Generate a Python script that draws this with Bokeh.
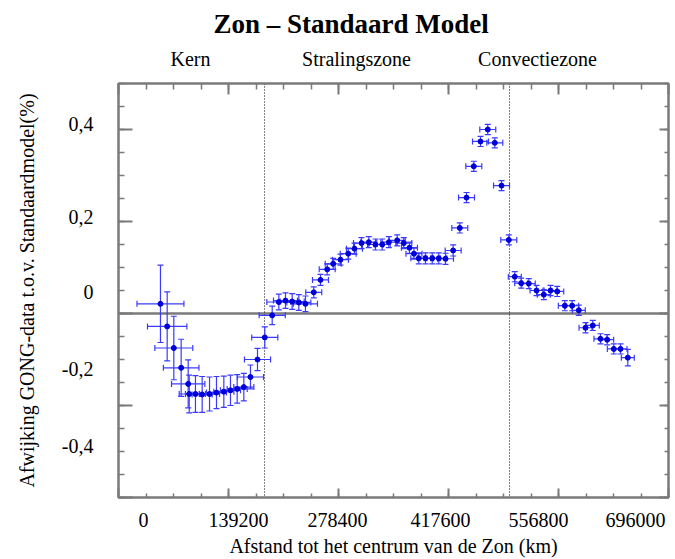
import numpy as np
from bokeh.plotting import figure
from bokeh.models import (ColumnDataSource, Range1d, LinearAxis, FixedTicker,
                          Whisker, TeeHead, Span)
from bokeh.embed import file_html
from bokeh.resources import INLINE

# Afstand tot het centrum van de Zon (km)
afstand_km = [
    53100, 61600, 70000, 79300, 88200, 89500, 97400, 105900, 115200, 124000,
    133300, 141700, 150200, 158600, 167000, 175900, 185100, 194500, 202900, 211300,
    219800, 228200, 236600, 247100, 255600, 264100, 271700, 280900, 290700, 298600,
    307500, 316700, 325200, 333700, 342100, 352700, 361000, 368200, 373900, 380000,
    388500, 397000, 405300, 413800, 423500, 431900, 440400, 449600, 458100, 467300,
    476200, 484700, 493900, 501500, 509600, 519200, 529000, 538200, 546700, 555200,
    564800, 574100, 582500, 591000, 600200, 609900, 618400, 626800, 635300, 644500,
]
# Afwijking GONG-data t.o.v. het standaardmodel (%)
afwijking = [
    0.021, -0.028, -0.075, -0.118, -0.153, -0.175, -0.175, -0.176, -0.175, -0.172,
    -0.170, -0.167, -0.164, -0.160, -0.138, -0.100, -0.052, -0.004, 0.025, 0.028,
    0.026, 0.024, 0.021, 0.046, 0.073, 0.096, 0.108, 0.117, 0.130, 0.141,
    0.153, 0.155, 0.150, 0.150, 0.155, 0.159, 0.153, 0.143, 0.130, 0.120,
    0.120, 0.120, 0.120, 0.119, 0.137, 0.186, 0.252, 0.320, 0.374, 0.400,
    0.371, 0.278, 0.160, 0.080, 0.066, 0.065, 0.050, 0.041, 0.050, 0.048,
    0.017, 0.017, 0.007, -0.031, -0.026, -0.055, -0.057, -0.077, -0.077, -0.096,
]
# Onzekerheid in de afstand (km)
fout_afstand = [
    29700, 24900, 24000, 22500, 21100, 12700, 12700, 12700, 12700, 12700,
    12700, 12700, 12700, 12700, 16500, 16500, 16500, 16500, 15200, 15200,
    15200, 15200, 15200, 10100, 10100, 10100, 10100, 10100, 10100, 10100,
    10100, 10100, 10100, 10100, 10100, 10100, 10100, 10100, 10100, 10100,
    10100, 10100, 10100, 10100, 10100, 10100, 10100, 10100, 10100, 10100,
    10100, 10100, 10100, 8200, 8200, 8200, 8200, 8200, 8200, 8200,
    8200, 8200, 8200, 8200, 8200, 8200, 8200, 8200, 8200, 8200,
]
# Onzekerheid in de afwijking (%)
fout_afwijking = [
    0.084, 0.075, 0.069, 0.062, 0.052, 0.041, 0.040, 0.039, 0.037, 0.035,
    0.034, 0.033, 0.031, 0.030, 0.026, 0.024, 0.023, 0.020, 0.017, 0.017,
    0.017, 0.017, 0.017, 0.012, 0.012, 0.012, 0.012, 0.012, 0.012, 0.012,
    0.012, 0.012, 0.012, 0.012, 0.012, 0.012, 0.012, 0.012, 0.012, 0.012,
    0.012, 0.012, 0.012, 0.012, 0.012, 0.011, 0.011, 0.011, 0.011, 0.011,
    0.011, 0.011, 0.011, 0.011, 0.011, 0.011, 0.011, 0.011, 0.011, 0.011,
    0.011, 0.011, 0.011, 0.011, 0.011, 0.011, 0.011, 0.011, 0.011, 0.018,
]

R_ZON = 696000
x_ticks = [0, 139200, 278400, 417600, 556800, 696000]
x_tick_labels = ["0", "139200", "278400", "417600", "556800", "696000"]
y_ticks = [-0.4, -0.2, 0.0, 0.2, 0.4]
y_tick_labels = ["0,4", "0,2", "0", "-0,2", "-0,4"]
zones = ["Kern", "Stralingszone", "Convectiezone"]
grens_kern = 184800
grens_convectie = 494800

# plaats van de getallen langs de assen en van de zonenamen
x_label_plek = [31600, 151900, 277100, 407500, 531500, 654200]
y_label_plek = [0.4127, 0.2107, 0.0457, -0.1196, -0.287]
zone_plek = [91100, 301200, 530200]

FONT = "Liberation Serif"
GRIJS = "#7a7a7a"
BALK = "#3a3aff"
PUNT = "#0000d8"

x = np.array(afstand_km, dtype=float)
y = np.array(afwijking, dtype=float)
dx = np.array(fout_afstand, dtype=float)
dy = np.array(fout_afwijking, dtype=float)
src = ColumnDataSource(dict(x=x, y=y, xlo=x - dx, xhi=x + dx, ylo=y - dy, yhi=y + dy))

p = figure(width=675, height=559, output_backend="svg", toolbar_location=None,
           x_range=Range1d(0, R_ZON), y_range=Range1d(-0.4, 0.5),
           x_axis_location=None, y_axis_location=None,
           min_border_left=118, min_border_right=7, min_border_top=83,
           min_border_bottom=62, background_fill_color="white",
           border_fill_color="white", title="Zon – Standaard Model")
p.grid.visible = False
p.outline_line_color = GRIJS
p.outline_line_width = 2

p.title.text_font = FONT
p.title.text_font_size = "27px"
p.title.text_font_style = "bold"
p.title.text_color = "black"
p.title.align = "left"
p.title.offset = 95
p.title.standoff = 11

x_minor = [round(v) for v in np.arange(0, R_ZON + 1, 34800)]
y_minor = [round(v, 2) for v in np.arange(-0.4, 0.5001, 0.05)]


def streepjes_as(ticks, minor, major_in, minor_in):
    ax = LinearAxis(ticker=FixedTicker(ticks=ticks, minor_ticks=minor))
    ax.major_tick_in = major_in
    ax.major_tick_out = 0
    ax.minor_tick_in = minor_in
    ax.minor_tick_out = 0
    ax.major_tick_line_color = GRIJS
    ax.major_tick_line_width = 2
    ax.minor_tick_line_color = GRIJS
    ax.minor_tick_line_width = 1.5
    ax.axis_line_color = GRIJS
    ax.axis_line_width = 2
    ax.major_label_text_color = None
    ax.major_label_standoff = 0
    return ax


def tekst_as(plek, teksten, standoff, titel=None, titel_afstand=2):
    ax = LinearAxis(ticker=FixedTicker(ticks=plek, minor_ticks=[]))
    ax.major_label_overrides = {v: t for v, t in zip(plek, teksten)}
    ax.major_tick_in = 0
    ax.major_tick_out = 0
    ax.minor_tick_in = 0
    ax.minor_tick_out = 0
    ax.major_tick_line_color = None
    ax.minor_tick_line_color = None
    ax.axis_line_color = None
    ax.major_label_standoff = standoff
    ax.major_label_text_font = FONT
    ax.major_label_text_font_size = "20px"
    ax.major_label_text_color = "black"
    if titel is not None:
        ax.axis_label = titel
        ax.axis_label_text_font = FONT
        ax.axis_label_text_font_size = "20px"
        ax.axis_label_text_font_style = "normal"
        ax.axis_label_text_color = "black"
        ax.axis_label_standoff = titel_afstand
    return ax


p.add_layout(streepjes_as(x_ticks, x_minor, 9, 4), "below")
p.add_layout(streepjes_as(y_ticks, y_minor, 14, 6), "left")
p.add_layout(streepjes_as(x_ticks, x_minor, 11, 6), "above")
p.add_layout(streepjes_as(y_ticks, y_minor, 9, 4), "right")

p.add_layout(tekst_as(x_label_plek, x_tick_labels, 15,
                      "Afstand tot het centrum van de Zon (km)", 5), "below")
p.add_layout(tekst_as(y_label_plek, y_tick_labels, 25,
                      "Afwijking GONG-data t.o.v. Standaardmodel(%)", 21), "left")
p.add_layout(tekst_as(zone_plek, zones, 14), "above")

# nullijn en zonegrenzen
p.add_layout(Span(location=0, dimension="width", line_color=GRIJS,
                  line_width=2.5, level="underlay"))
for grens in (grens_kern, grens_convectie):
    p.add_layout(Span(location=grens, dimension="height", line_color="black",
                      line_width=1, line_dash="1 2", level="underlay"))

# foutbalken en meetpunten
kop = dict(size=6, line_color=BALK, line_width=1.2)
p.add_layout(Whisker(source=src, base="x", lower="ylo", upper="yhi",
                     dimension="height", line_color=BALK, line_width=1.2,
                     upper_head=TeeHead(**kop), lower_head=TeeHead(**kop)))
p.add_layout(Whisker(source=src, base="y", lower="xlo", upper="xhi",
                     dimension="width", line_color=BALK, line_width=1.2,
                     upper_head=TeeHead(**kop), lower_head=TeeHead(**kop)))
p.scatter("x", "y", source=src, size=5, color=PUNT)

open("out.html", "w").write(file_html(p, INLINE))
